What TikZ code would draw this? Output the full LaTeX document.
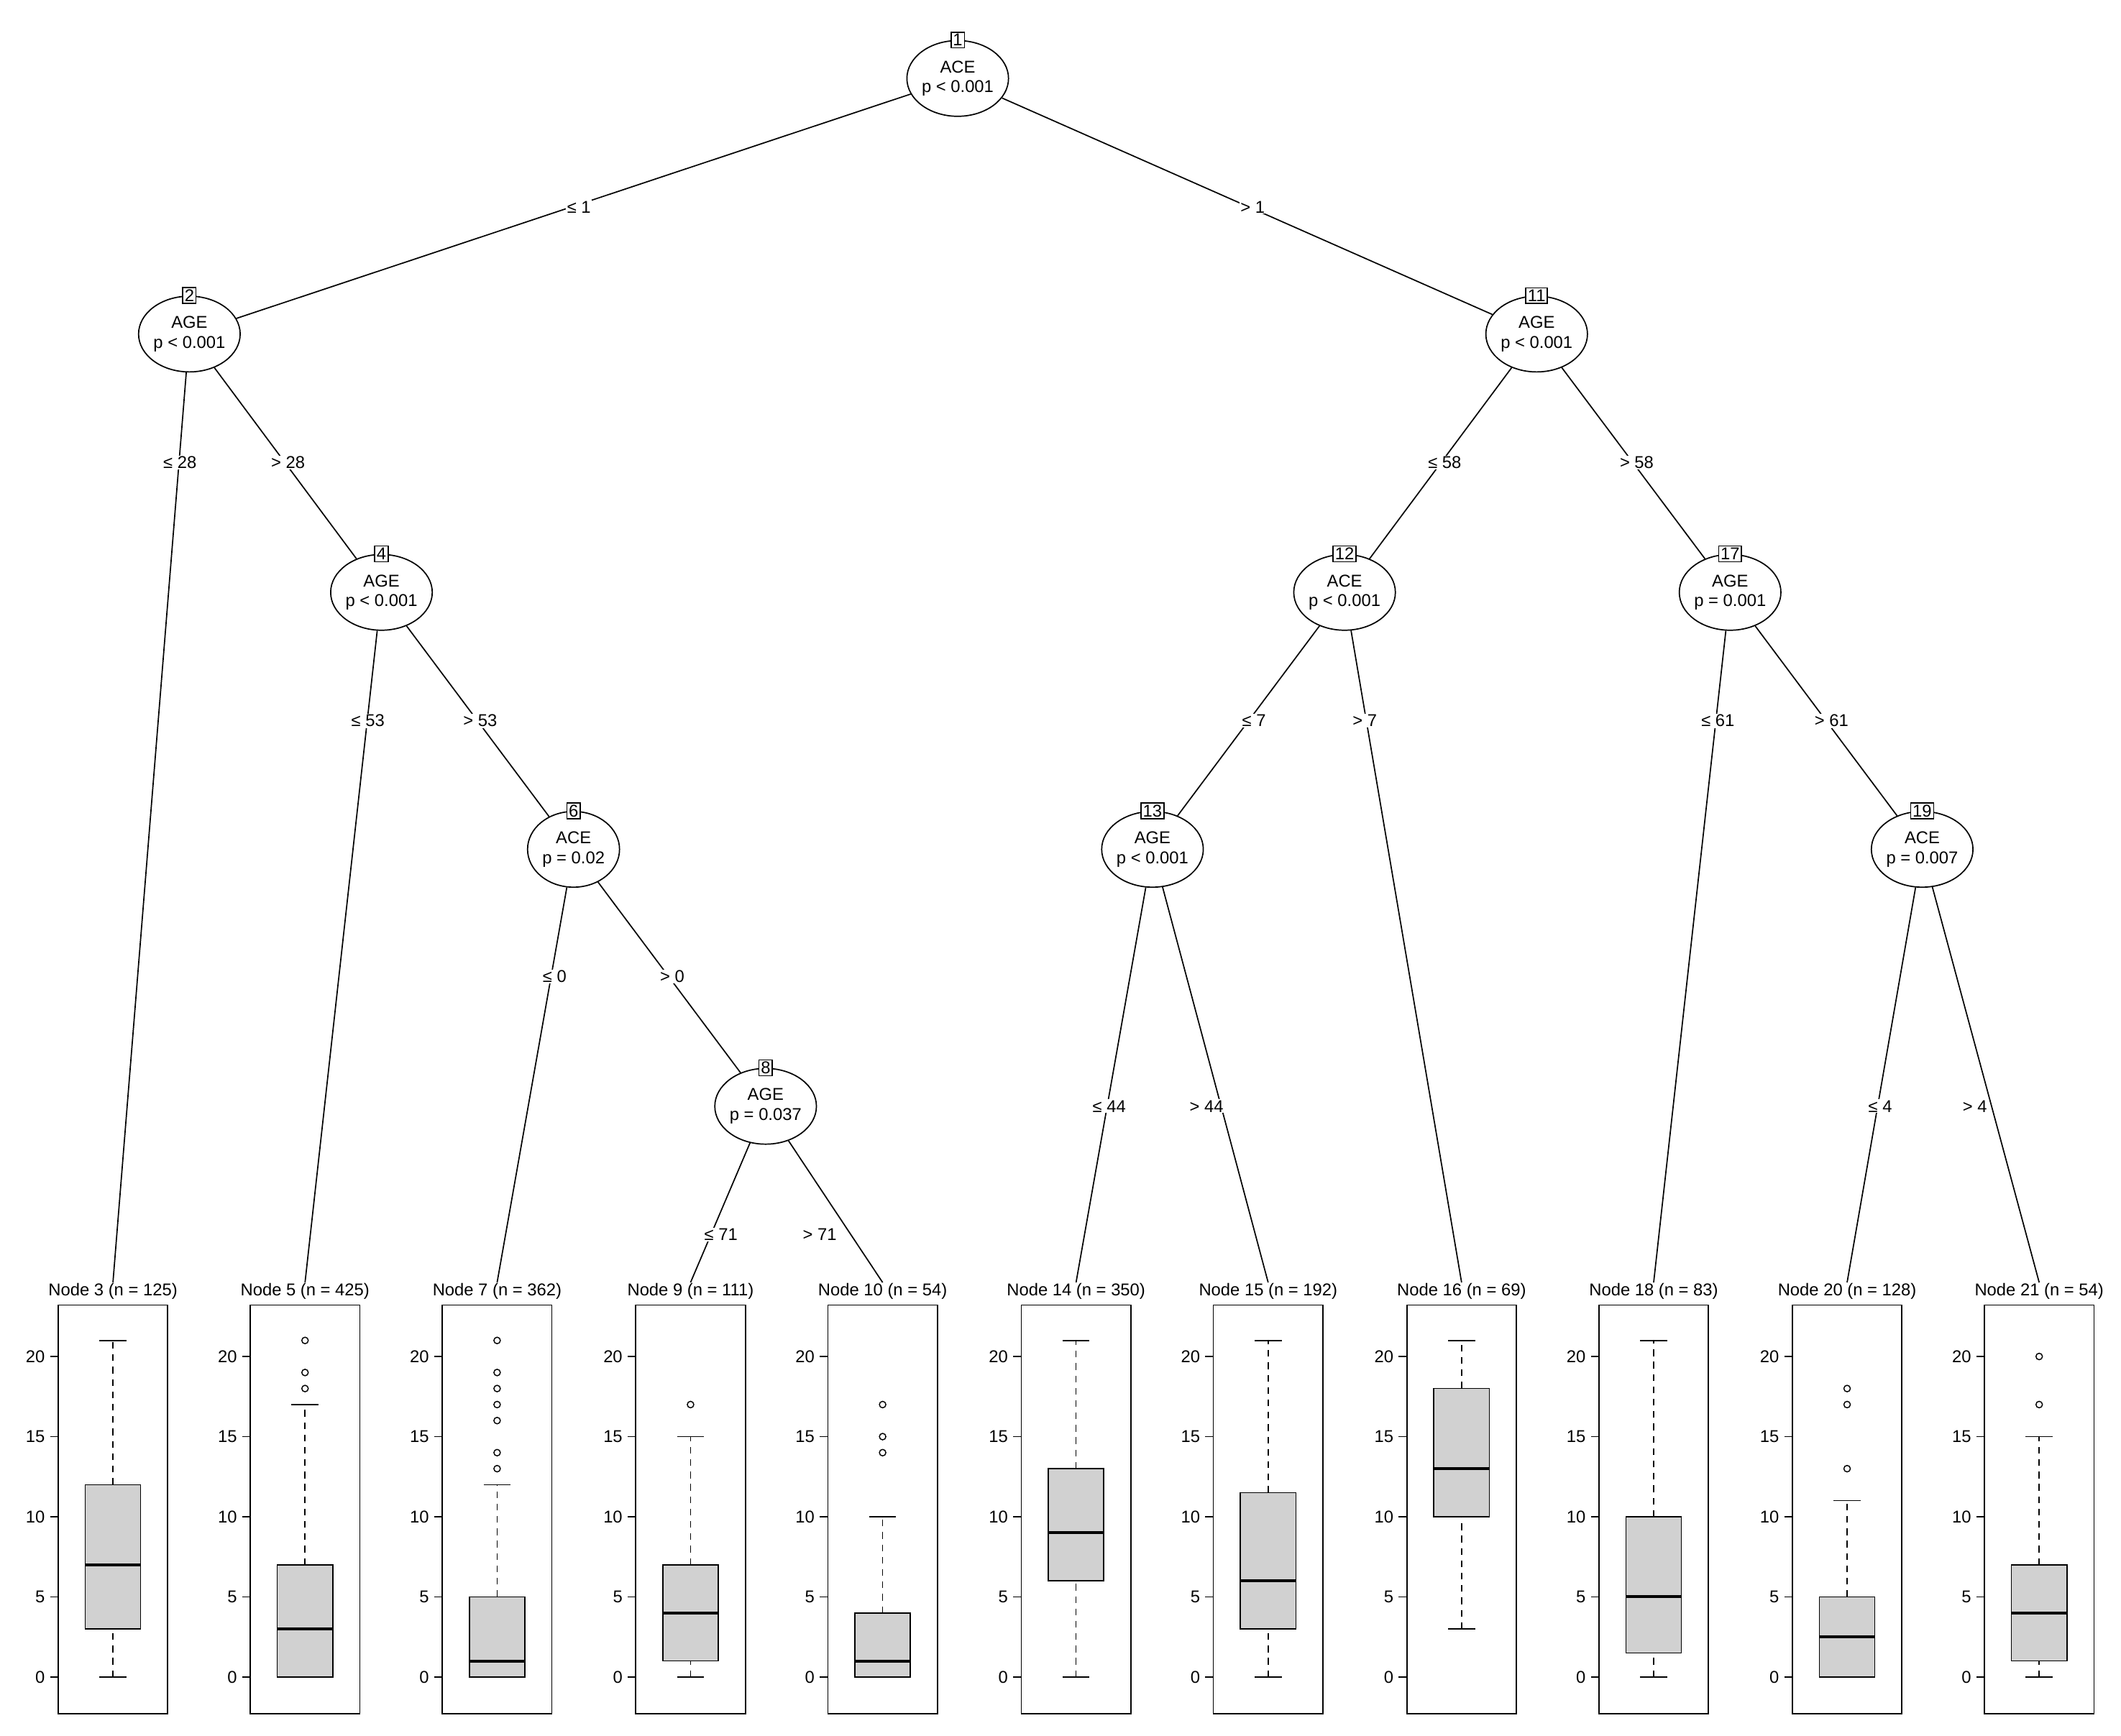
\documentclass[tikz,border=0pt]{standalone}
\usepackage{fontspec}
\setmainfont{Liberation Sans}
\usetikzlibrary{shapes.geometric}
\tikzset{
  inner/.style={draw,ellipse,line width=1.3pt,minimum width=3.4cm,minimum height=2.8cm,inner sep=0pt,align=center,font=\fontsize{18}{21}\selectfont},
  numbox/.style={draw,line width=1.2pt,fill=white,inner sep=2pt,font=\fontsize{18}{20}\selectfont},
  title/.style={inner sep=1pt,font=\fontsize{18}{20}\selectfont},
  elab/.style={fill=white,inner sep=1pt,font=\fontsize{18}{20}\selectfont},
  tlab/.style={anchor=east,inner sep=1pt,font=\fontsize{18}{20}\selectfont},
  edge/.style={line width=1.3pt},
  wdash/.style={line width=1.2pt,dash pattern=on 7pt off 6pt},
}
\newcommand\panel[9]{%
  \node[title] (#2) at ({#1+40.5},955) {#3};
  \draw[line width=1.3pt] (#1,965) rectangle ({#1+81},1267);
  \foreach \t in {0,5,10,15,20}{
    \draw[line width=1.2pt] ({#1-6},{1240-11.85*\t}) -- (#1,{1240-11.85*\t});
    \node[tlab] at ({#1-9},{1240-11.85*\t}) {\t};
  }
  \draw[wdash] ({#1+40.5},{1240-11.85*#6}) -- ({#1+40.5},{1240-11.85*#8});
  \draw[wdash] ({#1+40.5},{1240-11.85*#7}) -- ({#1+40.5},{1240-11.85*#4});
  \draw[line width=1.2pt] ({#1+30.5},{1240-11.85*#8}) -- ({#1+50.5},{1240-11.85*#8});
  \draw[line width=1.2pt] ({#1+30.5},{1240-11.85*#7}) -- ({#1+50.5},{1240-11.85*#7});
  \draw[fill=black!18,line width=1.2pt] ({#1+20},{1240-11.85*#4}) rectangle ({#1+61},{1240-11.85*#6});
  \draw[line width=3pt] ({#1+20},{1240-11.85*#5}) -- ({#1+61},{1240-11.85*#5});
  \foreach \o in {#9}{\ifdim\o pt>-1pt \draw[line width=1.1pt] ({#1+40.5},{1240-11.85*\o}) circle[radius=0.12cm];\fi}
}
\begin{document}
\begin{tikzpicture}[x=0.05cm,y=-0.05cm]
\useasboundingbox[fill=white] (0,0) rectangle (1568,1283.6);
% inner nodes
\node[inner] (e1) at (708,58) {ACE\\p < 0.001};
\node[inner] (e2) at (140,247) {AGE\\p < 0.001};
\node[inner] (e11) at (1136,247) {AGE\\p < 0.001};
\node[inner] (e4) at (282,438) {AGE\\p < 0.001};
\node[inner] (e12) at (994,438) {ACE\\p < 0.001};
\node[inner] (e17) at (1279,438) {AGE\\p = 0.001};
\node[inner] (e6) at (424,628) {ACE\\p = 0.02};
\node[inner] (e13) at (852,628) {AGE\\p < 0.001};
\node[inner] (e19) at (1421,628) {ACE\\p = 0.007};
\node[inner] (e8) at (566,818) {AGE\\p = 0.037};
% panels
\panel{43}{n3}{Node 3 (n = 125)}{3}{7}{12}{0}{21}{-5}
\panel{185}{n5}{Node 5 (n = 425)}{0}{3}{7}{0}{17}{18,19,21}
\panel{327}{n7}{Node 7 (n = 362)}{0}{1}{5}{0}{12}{13,14,16,17,18,19,21}
\panel{470}{n9}{Node 9 (n = 111)}{1}{4}{7}{0}{15}{17}
\panel{612}{n10}{Node 10 (n = 54)}{0}{1}{4}{0}{10}{14,15,17}
\panel{755}{n14}{Node 14 (n = 350)}{6}{9}{13}{0}{21}{-5}
\panel{897}{n15}{Node 15 (n = 192)}{3}{6}{11.5}{0}{21}{-5}
\panel{1040}{n16}{Node 16 (n = 69)}{10}{13}{18}{3}{21}{-5}
\panel{1182}{n18}{Node 18 (n = 83)}{1.5}{5}{10}{0}{21}{-5}
\panel{1325}{n20}{Node 20 (n = 128)}{0}{2.5}{5}{0}{11}{13,17,18}
\panel{1467}{n21}{Node 21 (n = 54)}{1}{4}{7}{0}{15}{17,20}
% edges
\draw[edge] (e1) -- (e2);
\draw[edge] (e1) -- (e11);
\draw[edge] (e2) -- (n3.north);
\draw[edge] (e2) -- (e4);
\draw[edge] (e4) -- (n5.north);
\draw[edge] (e4) -- (e6);
\draw[edge] (e6) -- (n7.north);
\draw[edge] (e6) -- (e8);
\draw[edge] (e8) -- (n9.north);
\draw[edge] (e8) -- (n10.north);
\draw[edge] (e11) -- (e12);
\draw[edge] (e11) -- (e17);
\draw[edge] (e12) -- (e13);
\draw[edge] (e12) -- (n16.north);
\draw[edge] (e13) -- (n14.north);
\draw[edge] (e13) -- (n15.north);
\draw[edge] (e17) -- (n18.north);
\draw[edge] (e17) -- (e19);
\draw[edge] (e19) -- (n20.north);
\draw[edge] (e19) -- (n21.north);
% number boxes
\foreach \e/\k in {e1/1,e2/2,e11/11,e4/4,e12/12,e17/17,e6/6,e13/13,e19/19,e8/8}
  \node[numbox] (b\k) at (\e.north) {\k};
% edge labels
\node[elab] (l1) at (428,153) {≤ 1};
\node[elab] (l2) at (926,153) {> 1};
\node[elab] (l3) at (133,342) {≤ 28};
\node[elab] (l4) at (213,342) {> 28};
\node[elab] (l5) at (272,533) {≤ 53};
\node[elab] (l6) at (355,533) {> 53};
\node[elab] (l7) at (410,722) {≤ 0};
\node[elab] (l8) at (497,722) {> 0};
\node[elab] (l9) at (533,913) {≤ 71};
\node[elab] (l10) at (606,913) {> 71};
\node[elab] (l11) at (1068,342) {≤ 58};
\node[elab] (l12) at (1210,342) {> 58};
\node[elab] (l13) at (927,533) {≤ 7};
\node[elab] (l14) at (1009,533) {> 7};
\node[elab] (l15) at (1270,533) {≤ 61};
\node[elab] (l16) at (1354,533) {> 61};
\node[elab] (l17) at (820,818) {≤ 44};
\node[elab] (l18) at (892,818) {> 44};
\node[elab] (l19) at (1390,818) {≤ 4};
\node[elab] (l20) at (1460,818) {> 4};
\end{tikzpicture}
\end{document}
